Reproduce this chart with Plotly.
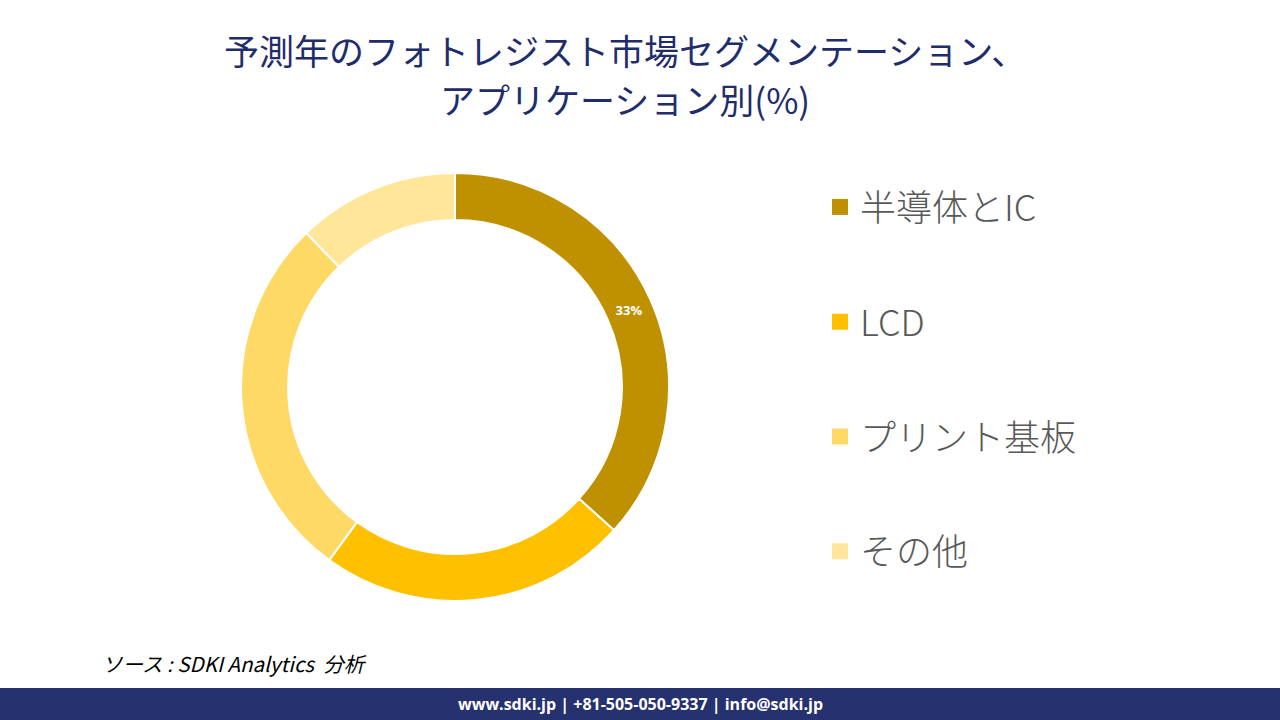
import plotly.graph_objects as go

categories = ["半導体とIC", "LCD", "プリント基板", "その他"]
values = [33, 21, 25, 11]
colors = ["#BF9000", "#FFC000", "#FFD966", "#FFE699"]
label_templates = ["%{value}%", "", "", ""]

title_lines = ["予測年のフォトレジスト市場セグメンテーション、", "アプリケーション別(%)"]
source_text = "ソース : SDKI Analytics  分析"
footer_text = "www.sdki.jp | +81-505-050-9337 | info@sdki.jp"

W, H = 1280, 720
cx, cy, r = 455, 387, 214

fig = go.Figure()
fig.add_trace(go.Pie(
    labels=categories,
    values=values,
    marker=dict(colors=colors, line=dict(color="white", width=2)),
    hole=0.78,
    sort=False,
    direction="clockwise",
    rotation=0,
    texttemplate=label_templates,
    textposition="inside",
    insidetextorientation="horizontal",
    textfont=dict(family="Open Sans", size=13, color="white", weight="bold"),
    showlegend=False,
    hoverinfo="label+percent",
    domain=dict(x=[(cx - r) / W, (cx + r) / W], y=[(H - cy - r) / H, (H - cy + r) / H]),
))

for i, (cat, col) in enumerate(zip(categories, colors)):
    fig.add_trace(go.Scatter(
        x=[None], y=[None], mode="markers", name=cat,
        marker=dict(symbol="square", size=20, color=col),
        legendgroup="g%d" % i, showlegend=True,
    ))

annotations = []
for line, ypix in zip(title_lines, [50, 99]):
    annotations.append(dict(
        text=line, x=625 / W, y=(H - ypix) / H, xref="paper", yref="paper",
        xanchor="center", yanchor="middle", showarrow=False, borderpad=0,
        font=dict(family="Noto Sans CJK JP", size=35, color="#1F2D6B")))
annotations += [
    dict(text="<i>" + source_text + "</i>", x=100 / W, y=(H - 663) / H, xref="paper", yref="paper",
         xanchor="left", yanchor="middle", showarrow=False,
         font=dict(family="Noto Sans CJK JP", size=20.5, color="black")),
    dict(text="<b>" + footer_text + "</b>", x=640 / W, y=(H - 704) / H, xref="paper", yref="paper",
         xanchor="center", yanchor="middle", showarrow=False,
         font=dict(family="Open Sans", size=16, color="white")),
]

fig.update_layout(
    width=W, height=H,
    margin=dict(l=0, r=0, t=0, b=0),
    paper_bgcolor="white", plot_bgcolor="white",
    uniformtext=dict(minsize=13, mode="show"),
    xaxis=dict(visible=False), yaxis=dict(visible=False),
    legend=dict(
        x=820 / W, xanchor="left", y=(H - 177) / H, yanchor="top",
        font=dict(family="Noto Sans CJK JP", size=36, color="#595959", weight=300),
        tracegroupgap=65, bgcolor="rgba(0,0,0,0)",
    ),
    annotations=annotations,
    shapes=[
        dict(type="rect", xref="paper", yref="paper", x0=0, x1=1, y0=0, y1=(H - 688) / H,
             fillcolor="#263170", line=dict(width=0), layer="below"),
    ],
)

fig.write_html("out.html", config={"displayModeBar": False},
               post_script="document.body.style.margin='0';document.body.style.overflow='hidden';")
